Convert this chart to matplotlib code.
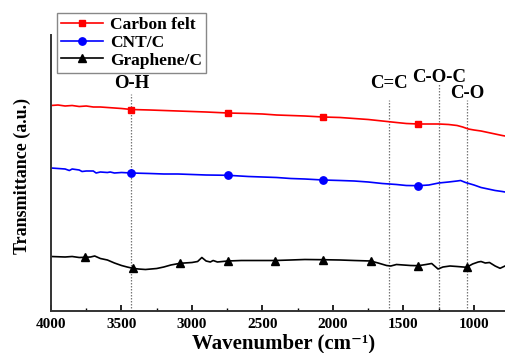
import matplotlib
matplotlib.use("Agg")
import matplotlib.pyplot as plt

# ---------------- data (y in arbitrary units) ----------------
cf_wn = [4000, 3950, 3900, 3850, 3800, 3750, 3700, 3650, 3600, 3550, 3500, 3430, 3300, 3200,
         3100, 3000, 2900, 2745, 2600, 2500, 2400, 2300, 2200, 2070, 1950, 1850, 1750, 1650,
         1550, 1480, 1395, 1300, 1250, 1180, 1120, 1080, 1040, 1000, 950, 900, 850, 800, 780]
cf_px = [105.5, 105, 106, 105.5, 106.5, 106, 107, 107, 107.5, 108, 108.5, 109.5, 110, 110.5,
         111, 111.5, 112, 113, 113.5, 114, 115, 115.5, 116, 117, 117.5, 118.5, 119.5, 121,
         122.5, 123.5, 124, 124, 124, 124.5, 125.5, 127, 129, 130, 131, 132.5, 134, 135.5, 136]

cnt_wn = [4000, 3950, 3900, 3870, 3850, 3800, 3780, 3750, 3700, 3680, 3650, 3600, 3580, 3550,
          3500, 3430, 3300, 3200, 3100, 3000, 2900, 2745, 2600, 2500, 2400, 2300, 2200, 2070,
          1950, 1850, 1750, 1650, 1550, 1480, 1395, 1320, 1250, 1180, 1120, 1095, 1060, 1000,
          950, 900, 850, 800, 780]
cnt_px = [168, 168.5, 169, 170.5, 169, 170, 171.5, 171, 171, 173, 172, 172.5, 172, 173,
          172.5, 173, 173.5, 174, 174, 174.5, 175, 175.3, 176.5, 177, 177.5, 178.5, 179, 180,
          180.5, 181, 182, 183.5, 184.5, 185.5, 185.7, 185, 183, 182, 181, 180.5, 182.5, 185,
          187.5, 189, 190.5, 191.5, 192]

gr_wn = [4000, 3900, 3850, 3800, 3759, 3720, 3690, 3650, 3600, 3550, 3500, 3460, 3420, 3380,
         3330, 3250, 3200, 3150, 3085, 3000, 2960, 2930, 2900, 2870, 2850, 2820, 2747, 2650,
         2550, 2411, 2300, 2200, 2073, 1950, 1850, 1733, 1680, 1620, 1590, 1550, 1500, 1450,
         1395, 1340, 1300, 1255, 1220, 1170, 1120, 1052, 1010, 970, 950, 920, 890, 850, 815, 780]
gr_px = [256.5, 257, 256.5, 257.5, 257.3, 257, 256, 258.5, 260, 263, 265.5, 267, 268.3, 269,
         269.5, 268.5, 267, 265, 263.3, 262.5, 261.5, 257.5, 261, 262, 260.5, 262, 261, 260.5,
         260.5, 260.5, 260, 259.5, 259.7, 260, 260.5, 261, 263, 265.5, 266, 264.5, 265, 265.5,
         265.7, 264.5, 263.5, 269, 267, 266, 266.5, 267.3, 264, 262, 261.5, 263, 262.5, 266, 268.3, 266]

cf_marks = [3430, 2745, 2070, 1395]
cnt_marks = [3430, 2745, 2070, 1395]
gr_marks = [3759, 3420, 3085, 2747, 2411, 2073, 1733, 1395, 1052]

band_labels = ["O-H", "C=C", "C-O-C", "C-O"]
band_wn = [3430, 1600, 1250, 1050]

BASE = 311.0
def tr(px):
    return [BASE - p for p in px]

# ---------------- figure ----------------
SERIF = ["Liberation Serif", "DejaVu Serif"]

fig = plt.figure(figsize=(5.05, 3.53), dpi=100)
ax = fig.add_axes([51 / 505, 42 / 353, 454 / 505, 276 / 353])

ax.plot(cf_wn, tr(cf_px), color="#ff0000", lw=1.2, marker="s", ms=5,
        markevery=[cf_wn.index(w) for w in cf_marks], label="Carbon felt")
ax.plot(cnt_wn, tr(cnt_px), color="#0000ff", lw=1.2, marker="o", ms=5.3,
        markevery=[cnt_wn.index(w) for w in cnt_marks], label="CNT/C")
ax.plot(gr_wn, tr(gr_px), color="#000000", lw=1.2, marker="^", ms=6,
        markevery=[gr_wn.index(w) for w in gr_marks], label="Graphene/C")

# band lines and labels
band_top_px = [94, 100, 84, 100]
band_lab_px = [84, 83, 77, 93]
for lab, w, tp, lp in zip(band_labels, band_wn, band_top_px, band_lab_px):
    ax.plot([w, w], [0, BASE - tp], color="#777777", lw=0.9, ls=(0, (1.2, 1.2)), zorder=1)
    ax.text(w, BASE - lp, lab, ha="center", va="center", fontsize=13.5,
            fontweight="bold", family=SERIF)

ax.set_xlim(4000, 780)
ax.set_ylim(0, 276)
ax.set_xticks([4000, 3500, 3000, 2500, 2000, 1500, 1000])
ax.set_xticks([3750, 3250, 2750, 2250, 1750, 1250], minor=True)
ax.set_yticks([])
for s in ["top", "right"]:
    ax.spines[s].set_visible(False)
for s in ["left", "bottom"]:
    ax.spines[s].set_linewidth(1.4)
    ax.spines[s].set_color("#333333")
ax.tick_params(axis="x", which="major", direction="in", length=4, width=1.2, pad=5)
ax.tick_params(axis="x", which="minor", direction="in", length=2.5, width=1.0)
for t in ax.get_xticklabels():
    t.set_fontfamily(SERIF)
    t.set_fontweight("bold")
    t.set_fontsize(11)

fig.text((185 + 383) / 2 / 505, 5 / 353, "Wavenumber (cm\u207b\u00b9)", ha="center",
         va="baseline", fontsize=15, fontweight="bold", family=SERIF)
ax.set_ylabel("Transmittance (a.u.)", fontsize=13, fontweight="bold", family=SERIF)
ax.yaxis.set_label_coords(-0.044, 0.49)

leg = ax.legend(loc="upper left", bbox_to_anchor=(57 / 505, 1 - 13 / 353),
                bbox_transform=fig.transFigure, borderaxespad=0, fancybox=False,
                edgecolor="#888888", framealpha=1, handlelength=2.4,
                labelspacing=0.08, borderpad=0.25, handletextpad=0.4,
                prop={"family": SERIF, "weight": "bold", "size": 12.5})
leg.get_frame().set_linewidth(1.0)

fig.savefig("out.png", dpi=100)
